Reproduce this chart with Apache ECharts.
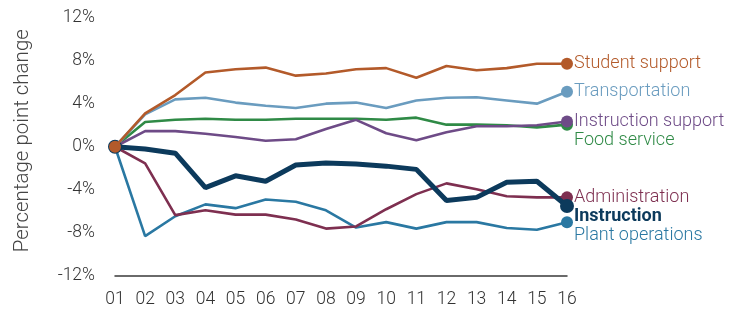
<!DOCTYPE html>
<html>
<head>
<meta charset="utf-8">
<script src="https://cdn.jsdelivr.net/npm/echarts@6/dist/echarts.min.js"></script>
<style>
  html, body { margin: 0; padding: 0; background: #fff; }
  #chart { width: 730px; height: 312px; }
</style>
</head>
<body>
<div id="chart"></div>
<script>
// 年份刻度
const years = ['01', '02', '03', '04', '05', '06', '07', '08', '09', '10', '11', '12', '13', '14', '15', '16'];

// 各项支出占比变化（百分点）
const studentSupport     = [0, 3.1, 4.8, 6.9, 7.2, 7.35, 6.6, 6.8, 7.2, 7.3, 6.4, 7.5, 7.1, 7.3, 7.7, 7.7];
const transportation     = [0, 3.0, 4.4, 4.55, 4.1, 3.8, 3.6, 4.0, 4.1, 3.6, 4.3, 4.55, 4.6, 4.3, 4.0, 5.1];
const instructionSupport = [0, 1.45, 1.45, 1.2, 0.9, 0.55, 0.7, 1.65, 2.5, 1.25, 0.6, 1.35, 1.9, 1.9, 2.0, 2.35];
const foodService        = [0, 2.3, 2.5, 2.6, 2.5, 2.5, 2.6, 2.6, 2.6, 2.5, 2.7, 2.05, 2.05, 2.0, 1.8, 2.05];
const administration     = [0, -1.55, -6.35, -5.9, -6.3, -6.3, -6.75, -7.6, -7.4, -5.8, -4.4, -3.4, -3.95, -4.6, -4.7, -4.7];
const instruction        = [0, -0.2, -0.6, -3.8, -2.7, -3.2, -1.7, -1.5, -1.6, -1.8, -2.1, -5.0, -4.7, -3.3, -3.2, -5.5];
const plantOperations    = [0, -8.3, -6.45, -5.35, -5.7, -4.9, -5.1, -5.9, -7.5, -7.0, -7.6, -7.0, -7.0, -7.55, -7.7, -7.0];

const yTicks = { min: -12, max: 12, interval: 4 };

const FONT = 'Roboto, "Liberation Sans", sans-serif';

function makeSeries(name, data, color, opts = {}) {
    const last = data.length - 1;
    return {
        name: name,
        type: 'line',
        data: data.map((v, i) => ({
            value: v,
            symbolSize: (i === 0 || i === last) ? (opts.dot || 12) : 0
        })),
        symbol: 'circle',
        showAllSymbol: true,
        z: opts.z || 2,
        lineStyle: { color: color, width: opts.width || 2.6 },
        itemStyle: { color: color },
        emphasis: { disabled: true },
        endLabel: {
            show: true,
            formatter: name,
            color: color,
            fontFamily: FONT,
            fontSize: 18,
            fontWeight: opts.bold ? 'bold' : 300,
            distance: 7,
            offset: opts.offset || [0, 0]
        }
    };
}

const chart = echarts.init(document.getElementById('chart'));

chart.setOption({
    animation: false,
    grid: { left: 115, right: 163, top: 17.5, bottom: 36 },
    xAxis: {
        type: 'category',
        data: years,
        boundaryGap: false,
        axisLine: { onZero: false, lineStyle: { color: '#3a3a3a', width: 1.5 } },
        axisTick: { show: false },
        axisLabel: { color: '#333', fontSize: 17.5, fontFamily: FONT, fontWeight: 300, margin: 15 }
    },
    yAxis: {
        type: 'value',
        min: yTicks.min,
        max: yTicks.max,
        interval: yTicks.interval,
        name: 'Percentage point change',
        nameLocation: 'middle',
        nameGap: 82,
        nameTextStyle: { color: '#444', fontSize: 20.5, fontFamily: FONT, fontWeight: 300, padding: [0, 0, 0, 12] },
        axisLine: { show: false },
        axisTick: { show: false },
        splitLine: { show: false },
        axisLabel: {
            color: '#333', fontSize: 17.5, fontFamily: FONT, fontWeight: 300, margin: 20,
            formatter: v => v + '%'
        }
    },
    series: [
        makeSeries('Plant operations', plantOperations, '#2a78a2', { offset: [0, 13] }),
        makeSeries('Food service', foodService, '#2f8a46', { offset: [0, 16] }),
        makeSeries('Transportation', transportation, '#6a9cbf'),
        makeSeries('Instruction support', instructionSupport, '#6e4b87'),
        makeSeries('Administration', administration, '#7e2f50'),
        makeSeries('Instruction', instruction, '#0c3a5c', { width: 5, dot: 14, bold: true, offset: [0, 11], z: 3 }),
        makeSeries('Student support', studentSupport, '#b35a2a', { z: 4 })
    ]
});
</script>
</body>
</html>
